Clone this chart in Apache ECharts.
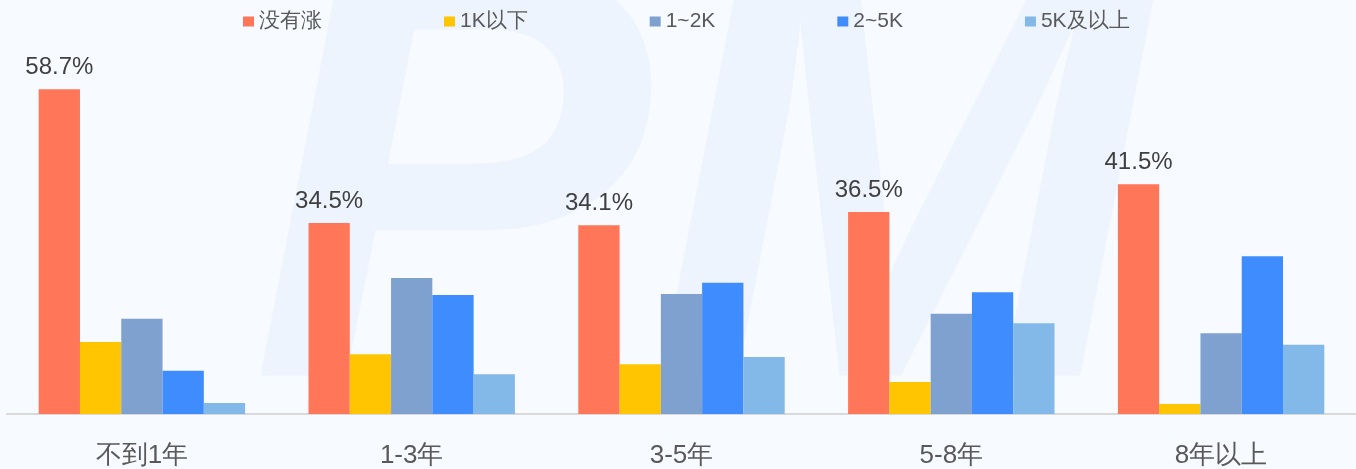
<!DOCTYPE html>
<html>
<head>
<meta charset="utf-8">
<style>
  html, body { margin: 0; padding: 0; background: #f7faff; }
  #main { width: 1356px; height: 469px; }
</style>
<script src="https://cdn.jsdelivr.net/npm/echarts@6/dist/echarts.min.js"></script>
</head>
<body>
<div id="main"></div>
<script>
var categories = ['不到1年', '1-3年', '3-5年', '5-8年', '8年以上'];
var seriesNames = ['没有涨', '1K以下', '1~2K', '2~5K', '5K及以上'];
var noRaise = [58.7, 34.5, 34.1, 36.5, 41.5];
var under1k = [13.0, 10.8, 9.0, 5.8, 1.8];
var k1to2 = [17.2, 24.6, 21.7, 18.1, 14.6];
var k2to5 = [7.8, 21.5, 23.7, 22.0, 28.5];
var over5k = [2.0, 7.2, 10.3, 16.4, 12.5];
var colors = ['#ff7659', '#ffc500', '#7fa1d0', '#3f8cff', '#82b9e9'];

!function () {
    var myChart = echarts.init(document.getElementById('main'));
    var allData = [noRaise, under1k, k1to2, k2to5, over5k];

    var series = allData.map(function (d, i) {
        return {
            name: seriesNames[i],
            type: 'bar',
            data: d,
            barGap: 0,
            barCategoryGap: '23.5%',
            itemStyle: { color: colors[i] },
            label: {
                show: i === 0,
                position: 'top',
                distance: 10,
                fontSize: 24,
                color: '#404040',
                fontFamily: 'Liberation Sans, Arial',
                formatter: '{c}%'
            }
        };
    });

    var option = {
        backgroundColor: '#f7faff',
        color: colors,
        // faint "PM" watermark behind the bars
        graphic: [{
            type: 'text',
            left: 250,
            top: -90,
            z: -10,
            silent: true,
            style: {
                text: 'PM',
                fontSize: 600,
                fontStyle: 'italic',
                fontWeight: 'bold',
                fontFamily: 'Liberation Sans, Arial',
                fill: '#eef4fe'
            }
        }],
        legend: {
            top: 6,
            left: 238,
            itemWidth: 11,
            itemHeight: 10,
            itemGap: 122,
            icon: 'rect',
            textStyle: {
                fontSize: 21,
                color: '#595959',
                fontFamily: 'Liberation Sans, Arial'
            },
            data: seriesNames
        },
        grid: { left: 7, width: 1354, top: 82, bottom: 55 },
        xAxis: {
            type: 'category',
            data: categories,
            axisTick: { show: false },
            axisLine: { lineStyle: { color: '#d9d9d9', width: 2 } },
            axisLabel: {
                fontSize: 26,
                color: '#595959',
                margin: 29,
                fontFamily: 'Liberation Sans, Arial'
            }
        },
        yAxis: {
            type: 'value',
            min: 0,
            max: 60,
            show: false
        },
        series: series
    };

    myChart.setOption(option);
}()
</script>
</body>
</html>
